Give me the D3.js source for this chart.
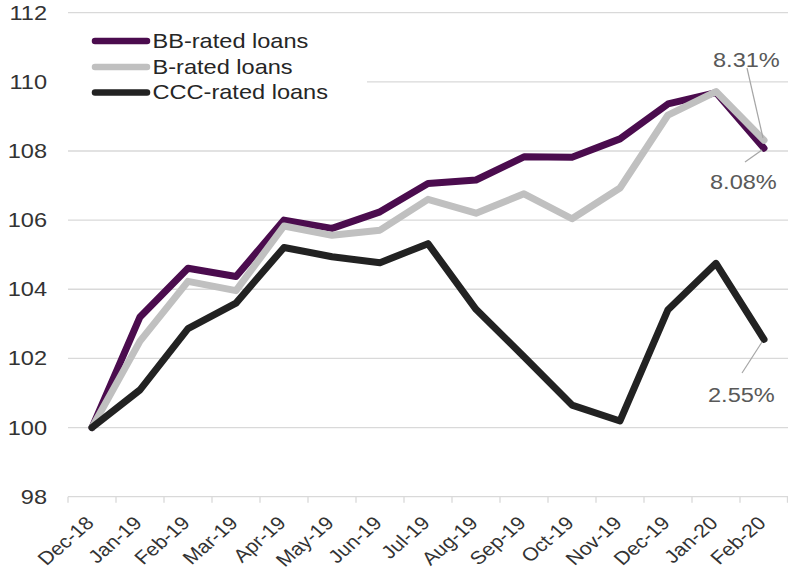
<!DOCTYPE html>
<html>
<head>
<meta charset="utf-8">
<script src="https://cdn.jsdelivr.net/npm/d3@7/dist/d3.min.js"></script>
<style>
  html, body { margin: 0; padding: 0; background: #fff; }
  svg { display: block; font-family: "Liberation Sans", Arial, sans-serif; }
</style>
</head>
<body>
<svg id="chart" width="788" height="573"></svg>
<script>
// Monthly index levels (Dec-18 = 100) by loan rating
const months = ["Dec-18","Jan-19","Feb-19","Mar-19","Apr-19","May-19","Jun-19","Jul-19",
                "Aug-19","Sep-19","Oct-19","Nov-19","Dec-19","Jan-20","Feb-20"];
const bbRated  = [100, 103.2, 104.61, 104.37, 106.0, 105.76, 106.24, 107.06, 107.16, 107.83, 107.82, 108.35, 109.36, 109.69, 108.08];
const bRated   = [100, 102.5, 104.23, 103.96, 105.83, 105.56, 105.71, 106.6, 106.2, 106.76, 106.04, 106.93, 109.04, 109.72, 108.31];
const cccRated = [100, 101.09, 102.86, 103.6, 105.21, 104.94, 104.77, 105.32, 103.42, 102.05, 100.65, 100.19, 103.41, 104.75, 102.55];
const seriesNames = ["BB-rated loans", "B-rated loans", "CCC-rated loans"];
const seriesColors = ["#4b0c4e", "#c0c0c0", "#222222"];
const yTicks = [98, 100, 102, 104, 106, 108, 110, 112];

const series = [bbRated, bRated, cccRated].map((values, i) => ({
  name: seriesNames[i], color: seriesColors[i], values
}));

const svg = d3.select("#chart");
const stretch = "scale(1.15,1)";
const textColor = "#333333";
const fontSize = "20.5px";

const x = d3.scaleBand().domain(months).range([68, 788]).padding(0);
const y = d3.scaleLinear().domain([98, 112]).range([496.7, 12.7]);
const cx = m => x(m) + x.bandwidth() / 2;

// Horizontal gridlines
svg.append("g").selectAll("line")
  .data(yTicks.filter(t => t !== 98))
  .join("line")
  .attr("x1", 68).attr("x2", 788)
  .attr("y1", d => y(d)).attr("y2", d => y(d))
  .attr("stroke", "#d9d9d9").attr("stroke-width", 1.3);

// Y tick labels
svg.append("g").selectAll("text")
  .data(yTicks)
  .join("text")
  .attr("transform", d => `translate(47,${y(d) + 7}) ${stretch}`)
  .attr("text-anchor", "end")
  .attr("font-size", fontSize)
  .attr("fill", textColor)
  .text(d => d);

// X axis: baseline with ticks at category boundaries
const xAxis = svg.append("g");
xAxis.append("line")
  .attr("x1", 68).attr("x2", 788)
  .attr("y1", y(98)).attr("y2", y(98))
  .attr("stroke", "#d9d9d9").attr("stroke-width", 1.3);
const boundaries = months.map(m => x(m)).concat([x.range()[1] - 0.5]);
xAxis.selectAll("line.tick")
  .data(boundaries)
  .join("line")
  .attr("class", "tick")
  .attr("x1", d => d).attr("x2", d => d)
  .attr("y1", y(98)).attr("y2", y(98) + 6)
  .attr("stroke", "#d9d9d9").attr("stroke-width", 1.3);
xAxis.selectAll("text")
  .data(months)
  .join("text")
  .attr("transform", d => `translate(${cx(d) + 3},${y(98) + 27.5}) ${stretch} rotate(-45)`)
  .attr("text-anchor", "end")
  .attr("font-size", "18.5px")
  .attr("fill", textColor)
  .text(d => d);

// Series lines
const line = d3.line()
  .x((d, i) => cx(months[i]))
  .y(d => y(d));

svg.append("g").selectAll("path")
  .data(series)
  .join("path")
  .attr("d", d => line(d.values))
  .attr("fill", "none")
  .attr("stroke", d => d.color)
  .attr("stroke-width", 7)
  .attr("stroke-linejoin", "round")
  .attr("stroke-linecap", "round");

// End-point value annotations with leader lines
const annotations = [
  { s: series[1], tx: 713, ty: 67, lx1: 747, ly1: 68, lx2: 763, ly2: 138 },
  { s: series[0], tx: 710, ty: 189, lx1: 745, ly1: 162, lx2: 762, ly2: 150 },
  { s: series[2], tx: 708, ty: 402, lx1: 742, ly1: 373, lx2: 762, ly2: 342 }
];
const ann = svg.append("g");
ann.selectAll("line")
  .data(annotations)
  .join("line")
  .attr("x1", d => d.lx1).attr("y1", d => d.ly1)
  .attr("x2", d => d.lx2).attr("y2", d => d.ly2)
  .attr("stroke", "#a6a6a6").attr("stroke-width", 1.2);
ann.selectAll("text")
  .data(annotations)
  .join("text")
  .attr("transform", d => `translate(${d.tx},${d.ty}) ${stretch}`)
  .attr("font-size", fontSize)
  .attr("fill", "#595959")
  .text(d => (d.s.values[d.s.values.length - 1] - 100).toFixed(2) + "%");

// Legend with white backing
const legend = svg.append("g");
legend.append("rect")
  .attr("x", 68).attr("y", 22).attr("width", 299).attr("height", 82)
  .attr("fill", "#fff");
const legendRowY = [41, 67, 92.5];
const rows = legend.selectAll("g.row")
  .data(series)
  .join("g")
  .attr("class", "row");
rows.append("line")
  .attr("x1", 95).attr("x2", 147)
  .attr("y1", (d, i) => legendRowY[i]).attr("y2", (d, i) => legendRowY[i])
  .attr("stroke", d => d.color)
  .attr("stroke-width", 6.5)
  .attr("stroke-linecap", "round");
rows.append("text")
  .attr("transform", (d, i) => `translate(152.5,${legendRowY[i] + 6.5}) ${stretch}`)
  .attr("font-size", fontSize)
  .attr("fill", "#262626")
  .text(d => d.name);
</script>
</body>
</html>
